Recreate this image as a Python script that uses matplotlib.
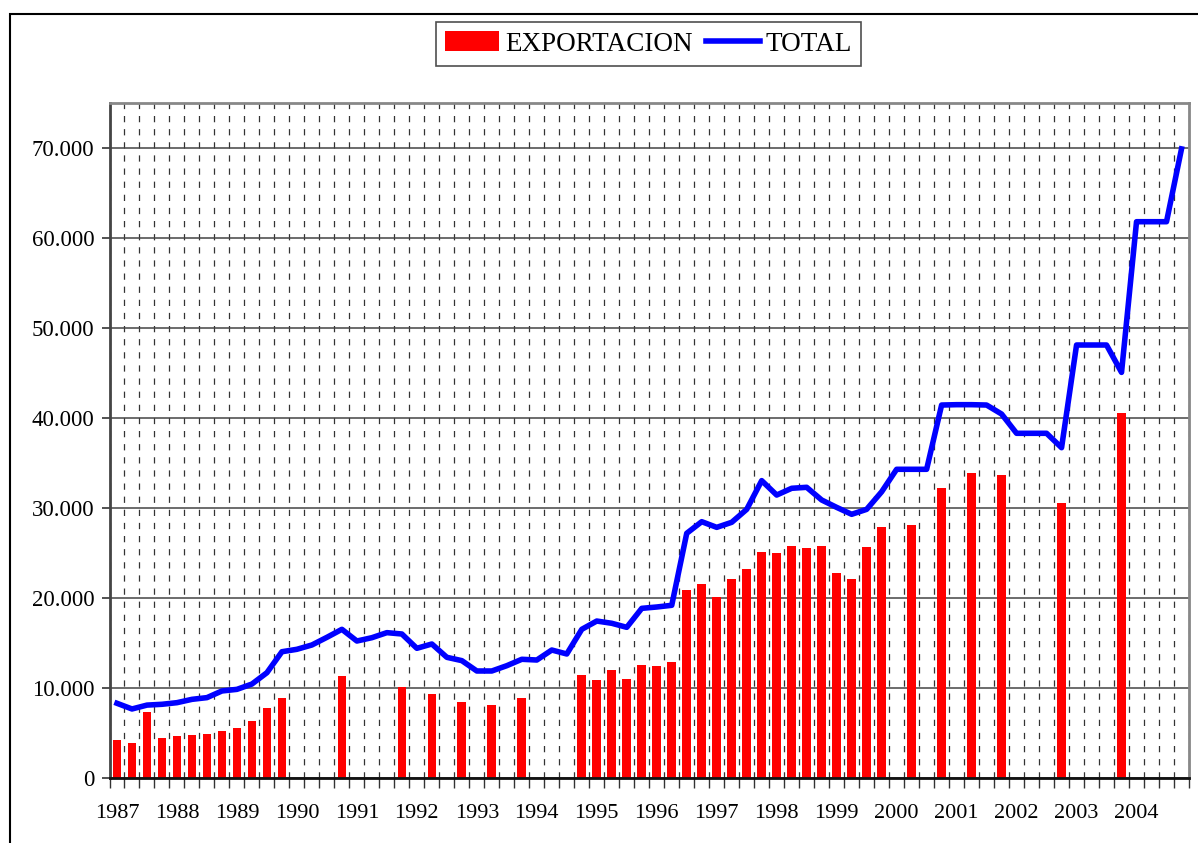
import numpy as np
import matplotlib
matplotlib.use("Agg")
import matplotlib.pyplot as plt
from matplotlib.ticker import FuncFormatter, FixedLocator
from matplotlib.patches import Rectangle

plt.rcParams["font.family"] = ["Liberation Serif", "DejaVu Serif"]

# years shown on the axis, 4 quarters each
years = [str(y) for y in range(1987, 2005)]

# EXPORTACION (bars), None = no value in that quarter
exportacion = [4220, 3890, 7300, 4480, 4700, 4780, 4890, 5190, 5520, 6300, 7780, 8930,
               None, None, None, 11370, None, None, None, 10150, None, 9370, None, 8410,
               None, 8070, None, 8850, None, None, None,
               11410, 10890, 12000, 10960, 12560, 12440, 12930, 20930, 21520, 20070, 22070,
               23220, 25150, 25040, 25780, 25590, 25780, 22740, 22110, 25670, 27850,
               None, 28150, None, 32190, None, 33850, None, 33700, None, None, None, 30520,
               None, None, None, 40520, None, None, None, None]

# TOTAL (line)
total = [8300, 7670, 8100, 8190, 8370, 8740, 8930, 9670, 9850, 10440, 11700, 14030,
         14300, 14780, 15630, 16520, 15220, 15590, 16150, 16000,
         14410, 14890, 13410, 13040, 11890, 11890, 12480, 13190, 13110, 14220, 13780,
         16520, 17440, 17190, 16740, 18850, 19000, 19190,
         27190, 28480, 27850, 28410, 29850, 33040, 31440, 32190, 32300, 30890, 30070, 29300, 29850,
         31800, 34300, 34300, 34300, 41440, 41480, 41480, 41440, 40440, 38300, 38300, 38300, 36700,
         48110, 48110, 48110, 45070, 61810, 61810, 61810, 69900]

exp = np.array([np.nan if v is None else v for v in exportacion], dtype=float)
n = len(total)
x = np.arange(n)

fig = plt.figure(figsize=(11.98, 8.43), dpi=100)
ax = fig.add_axes([109.5 / 1198, 1 - 778 / 843, (1189 - 109.5) / 1198, (778 - 103) / 843])

bars = ax.bar(x, exp, width=0.58, color="#ff0000", label="EXPORTACION", zorder=2)
line, = ax.plot(x, total, color="#0000ff", lw=4.0, label="TOTAL", zorder=3)

ax.set_xlim(-0.5, n - 0.5)
ax.set_ylim(0, 75000)
ax.set_axisbelow(True)

# y axis
ax.yaxis.set_major_locator(FixedLocator(np.arange(0, 70001, 10000)))
ax.yaxis.set_major_formatter(FuncFormatter(lambda v, p: f"{int(v):,}".replace(",", ".")))
ax.yaxis.grid(True, color="#444444", lw=1.1, ls="-")
ax.tick_params(axis="y", direction="out", length=6, width=1.2, labelsize=16.5, pad=5, color="#333333")

# x axis: ticks at quarter boundaries, year labels at first quarter
ax.xaxis.set_major_locator(FixedLocator(np.arange(-0.5, n, 1)))
ax.xaxis.set_major_formatter(FuncFormatter(lambda v, p: ""))
ax.xaxis.set_minor_locator(FixedLocator(np.arange(0, n, 4)))
ax.set_xticklabels(years, minor=True)
ax.tick_params(axis="x", which="major", direction="out", length=7, width=1.0, color="#333333")
ax.tick_params(axis="x", which="minor", length=0, labelsize=16, pad=19)
ax.xaxis.grid(True, which="major", color="#333333", lw=0.9, ls=(0, (5, 5.5)))

for side in ["top", "right"]:
    ax.spines[side].set_color("#888888")
    ax.spines[side].set_linewidth(2)
ax.spines["left"].set_color("#444444")
ax.spines["left"].set_linewidth(2)
ax.spines["bottom"].set_color("#111111")
ax.spines["bottom"].set_linewidth(2)

leg = ax.legend([bars, line], ["EXPORTACION", "TOTAL"], loc="upper center",
                bbox_to_anchor=(648.5 / 1198, 1 - 22 / 843), bbox_transform=fig.transFigure,
                ncol=2, fontsize=19.5, frameon=True, fancybox=False, borderaxespad=0,
                handlelength=2.0, handleheight=0.75, handletextpad=0.2, columnspacing=0.5,
                borderpad=0.35)
leg.get_frame().set_edgecolor("#222222")
leg.get_frame().set_linewidth(1.2)

# outer chart frame
fig.patches.append(Rectangle((10 / 1198, -0.1), 1.2, 1 - 14 / 843 + 0.1, transform=fig.transFigure,
                             fill=False, edgecolor="black", lw=1.5, clip_on=False))

fig.savefig("out.png", dpi=100)
